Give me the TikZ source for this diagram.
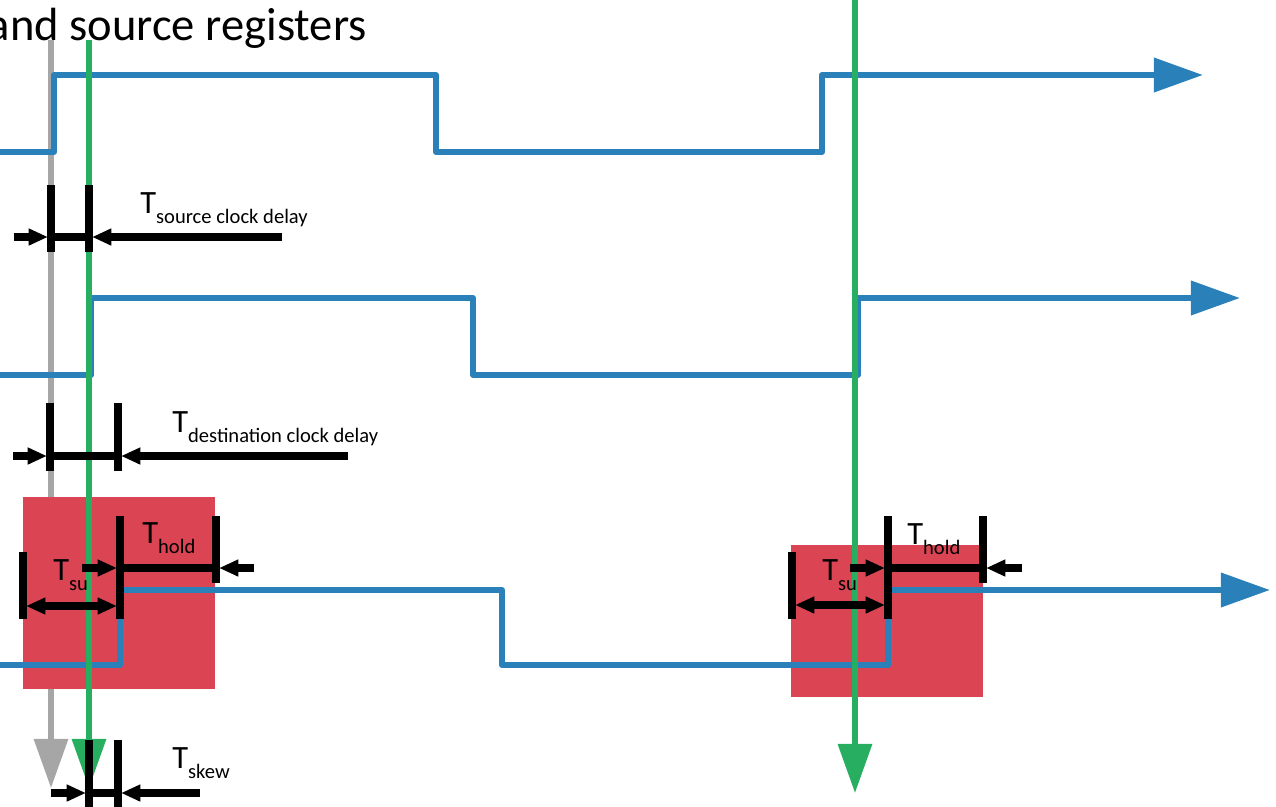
\documentclass[tikz,border=0pt]{standalone}
\usepackage{fontspec}
\setmainfont{Carlito}
\usepackage{tikz}
\usetikzlibrary{
  arrows.meta,
  positioning
}

\definecolor{sigblue}{RGB}{42,128,185}
\definecolor{clkgreen}{RGB}{39,174,96}
\definecolor{clkgray}{RGB}{166,166,166}
\definecolor{winred}{RGB}{219,68,83}

% label T with a lowered subscript
\newcommand{\tlbl}[1]{{\fontsize{18.5}{20}\selectfont T}{\fontsize{11.7}{12}\selectfont\raisebox{-6pt}{#1}}}

\begin{document}
\begin{tikzpicture}[
    x=0.02cm,
    y=-0.02cm,
    bigtip/.style={-{Triangle[length=28pt,width=19pt]}},
    smalltip/.style={-{Triangle[length=11pt,width=9pt]}},
    signal/.style={sigblue,line width=3.5pt,line join=round,bigtip},
    clock/.style={line width=3.2pt,bigtip},
    tick/.style={black,line width=4pt},
    dim/.style={black,line width=4pt},
    lbl/.style={anchor=base west,inner sep=0pt}
    ]
    
    \useasboundingbox (0,0) rectangle (1276,806);
    
    % titulo (cortado)
    \node[anchor=base east,inner sep=0pt,font=\fontsize{26.5}{28}\selectfont]
    (title) at (367,40) {and source registers};
    
    % clock da origem
    \draw[clock,clkgray] (51,40)--(51,788);
    
    % janelas setup/hold
    \fill[winred] (23,497) rectangle (215,689);
    \fill[winred] (791,545) rectangle (983,697);
    
    % sinais
    \draw[signal]
    (-10,152)--(54,152)--(54,75)--(436,75)--(436,152)
    --(822,152)--(822,75)--(1203,75);
    
    \draw[signal]
    (-10,375)--(91,375)--(91,298)--(473,298)--(473,375)
    --(858,375)--(858,298)--(1240,298);
    
    \draw[signal]
    (-10,665)--(120,665)--(120,590)--(502,590)--(502,665)
    --(888,665)--(888,590)--(1270,590);
    
    % clocks do destino
    \draw[clock,clkgreen] (89,40)--(89,788);
    \draw[clock,clkgreen] (855,-5)--(855,793);
    
    % atraso do clock da origem
    \draw[tick] (51,185)--(51,252);
    \draw[tick] (89,185)--(89,252);
    \draw[dim] (51,237)--(89,237);
    \draw[dim,smalltip] (14,237)--(48,237);
    \draw[dim,smalltip] (282,237)--(92,237);
    \node[lbl] (srcdelay) at (140,213) {\tlbl{source clock delay}};
    
    % atraso do clock do destino
    \draw[tick] (50,403)--(50,471);
    \draw[tick] (118,403)--(118,471);
    \draw[dim] (50,456)--(118,456);
    \draw[dim,smalltip] (13,456)--(47,456);
    \draw[dim,smalltip] (348,456)--(121,456);
    \node[lbl] (dstdelay) at (172,432) {\tlbl{destination clock delay}};
    
    % setup e hold, primeira borda
    \draw[tick] (23,552)--(23,619);
    \draw[tick] (120,516)--(120,619);
    \draw[tick] (216,516)--(216,583);
    \draw[dim] (120,568)--(216,568);
    \draw[dim,smalltip] (82,568)--(117,568);
    \draw[dim,smalltip] (254,568)--(219,568);
    \draw[dim,{Triangle[length=11pt,width=9pt]}-{Triangle[length=11pt,width=9pt]}]
    (26,606)--(117,606);
    \node[lbl] (su1) at (53,580) {\tlbl{su}};
    \node[lbl] (hold1) at (142,543) {\tlbl{hold}};
    
    % setup e hold, segunda borda
    \draw[tick] (792,552)--(792,619);
    \draw[tick] (888,516)--(888,619);
    \draw[tick] (983,516)--(983,583);
    \draw[dim] (888,568)--(983,568);
    \draw[dim,smalltip] (850,568)--(885,568);
    \draw[dim,smalltip] (1022,568)--(986,568);
    \draw[dim,{Triangle[length=11pt,width=9pt]}-{Triangle[length=11pt,width=9pt]}]
    (795,605)--(885,605);
    \node[lbl] (su2) at (822,580) {\tlbl{su}};
    \node[lbl] (hold2) at (907,544) {\tlbl{hold}};
    
    % skew
    \draw[tick] (89,740)--(89,812);
    \draw[tick] (118,740)--(118,812);
    \draw[dim] (89,793)--(118,793);
    \draw[dim,smalltip] (51,793)--(86,793);
    \draw[dim,smalltip] (200,793)--(121,793);
    \node[lbl] (skew) at (172,768) {\tlbl{skew}};
    
\end{tikzpicture}
\end{document}
